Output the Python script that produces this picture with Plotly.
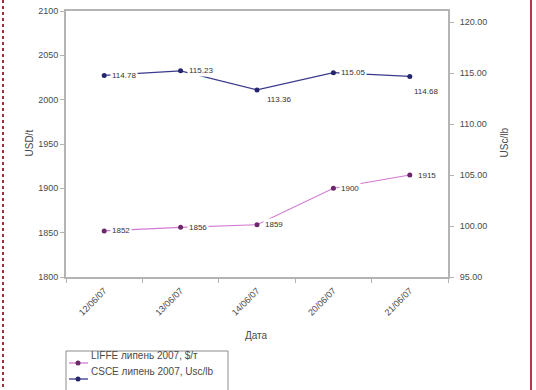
import plotly.graph_objects as go

# Trading dates (categories on the x axis)
dates = ["12/06/07", "13/06/07", "14/06/07", "20/06/07", "21/06/07"]

# LIFFE July 2007 contract, $/t (left axis)
liffe = [1852, 1856, 1859, 1900, 1915]
# CSCE July 2007 contract, US cents/lb (right axis)
csce = [114.78, 115.23, 113.36, 115.05, 114.68]

left_ticks = [1800, 1850, 1900, 1950, 2000, 2050, 2100]
right_ticks = [95, 100, 105, 110, 115, 120]

series_names = ["LIFFE липень 2007, $/т", "CSCE липень 2007, Usc/lb"]
line_colors = ["#d27ad2", "#3a3a8c"]
marker_colors = ["#6a2a6a", "#26266e"]

W, H = 536, 390
L, R, T, B = 66, 448, 11, 277  # plot area in pixels


def px_x(p):
    return (p - L) / (R - L)


def px_y(p):
    return (B - p) / (B - T)


fig = go.Figure()

fig.add_trace(go.Scatter(
    x=dates, y=liffe, name=series_names[0], mode="lines+markers",
    line=dict(color=line_colors[0], width=1.1),
    marker=dict(symbol="circle", size=5, color=marker_colors[0]),
    yaxis="y", cliponaxis=False, showlegend=False,
))
fig.add_trace(go.Scatter(
    x=dates, y=csce, name=series_names[1], mode="lines+markers",
    line=dict(color=line_colors[1], width=1.3),
    marker=dict(symbol="circle", size=5, color=marker_colors[1]),
    yaxis="y2", cliponaxis=False, showlegend=False,
))

text_color = "#4a4a4a"
label_font = dict(size=8, color="#333333", family="Arial")

# Value labels with a white backing, placed beside each point
for d, v in zip(dates, liffe):
    fig.add_annotation(x=d, y=v, xref="x", yref="y", text=str(v),
                       showarrow=False, xanchor="left", xshift=6,
                       bgcolor="white", borderpad=1, font=label_font)

csce_shift = [(6, 0), (6, 0), (8, -10), (6, 0), (2, -15)]
for d, v, (dx, dy) in zip(dates, csce, csce_shift):
    fig.add_annotation(x=d, y=v, xref="x", yref="y2", text=f"{v:.2f}",
                       showarrow=False, xanchor="left", xshift=dx, yshift=dy,
                       bgcolor="white", borderpad=1, font=label_font)

axis_line = dict(showline=True, linecolor="#b4b4b4", linewidth=2)
tick_font = dict(size=9, color=text_color, family="Arial")

fig.update_layout(
    width=W, height=H,
    margin=dict(l=L, r=W - R, t=T, b=H - B),
    paper_bgcolor="white", plot_bgcolor="white",
    font=dict(family="Arial", size=9, color=text_color),
    showlegend=False,
    xaxis=dict(
        type="category", range=[-0.5, 4.5], tickson="boundaries",
        ticks="outside", ticklen=4, tickcolor="#b4b4b4",
        tickangle=-45, tickfont=tick_font, ticklabelstandoff=3,
        showgrid=False, mirror=True, automargin=False, **axis_line,
    ),
    yaxis=dict(
        range=[1800, 2100], tickvals=left_ticks,
        ticks="outside", ticklen=4, tickcolor="#b4b4b4", tickfont=tick_font,
        showgrid=False, zeroline=False, automargin=False, **axis_line,
    ),
    yaxis2=dict(
        range=[95, 121.1], tickvals=right_ticks, tickformat=".2f",
        overlaying="y", side="right",
        ticks="outside", ticklen=4, tickcolor="#b4b4b4", tickfont=tick_font,
        ticklabelstandoff=4,
        showgrid=False, zeroline=False, automargin=False, **axis_line,
    ),
)

# Axis titles
title_font = dict(size=10, color=text_color, family="Arial")
fig.add_annotation(text="Дата", x=px_x(256), y=px_y(343), xref="paper", yref="paper",
                   showarrow=False, font=title_font)
fig.add_annotation(text="USD/t", x=px_x(21), y=px_y(143), xref="paper", yref="paper",
                   showarrow=False, textangle=-90, font=title_font)
fig.add_annotation(text="USc/lb", x=px_x(511), y=px_y(143), xref="paper", yref="paper",
                   showarrow=False, textangle=-90, font=title_font)

# Legend box below the chart
fig.add_shape(type="rect", xref="paper", yref="paper",
              x0=px_x(66), x1=px_x(228), y0=px_y(351), y1=px_y(395),
              line=dict(color="#8c8c8c", width=1), fillcolor="white")
for i, (name, lc, mc) in enumerate(zip(series_names, line_colors, marker_colors)):
    ry = 363 + i * 16
    fig.add_shape(type="line", xref="paper", yref="paper",
                  x0=px_x(69), x1=px_x(88), y0=px_y(ry), y1=px_y(ry),
                  line=dict(color=lc, width=1.3))
    fig.add_shape(type="circle", xref="paper", yref="paper",
                  x0=px_x(75.5), x1=px_x(80.5), y0=px_y(ry + 2.5), y1=px_y(ry - 2.5),
                  line=dict(color=mc, width=0), fillcolor=mc)
    fig.add_annotation(text=name, x=px_x(89), y=px_y(ry), xref="paper", yref="paper",
                       showarrow=False, xanchor="left", font=title_font)

# Page frame lines at the left and right edges
fig.add_shape(type="line", xref="paper", yref="paper",
              x0=px_x(3), x1=px_x(3), y0=px_y(0), y1=px_y(390),
              line=dict(color="#a0303c", width=2, dash="dot"))
fig.add_shape(type="line", xref="paper", yref="paper",
              x0=px_x(531), x1=px_x(531), y0=px_y(0), y1=px_y(390),
              line=dict(color="#b03a48", width=2))

fig.write_html("out.html")
